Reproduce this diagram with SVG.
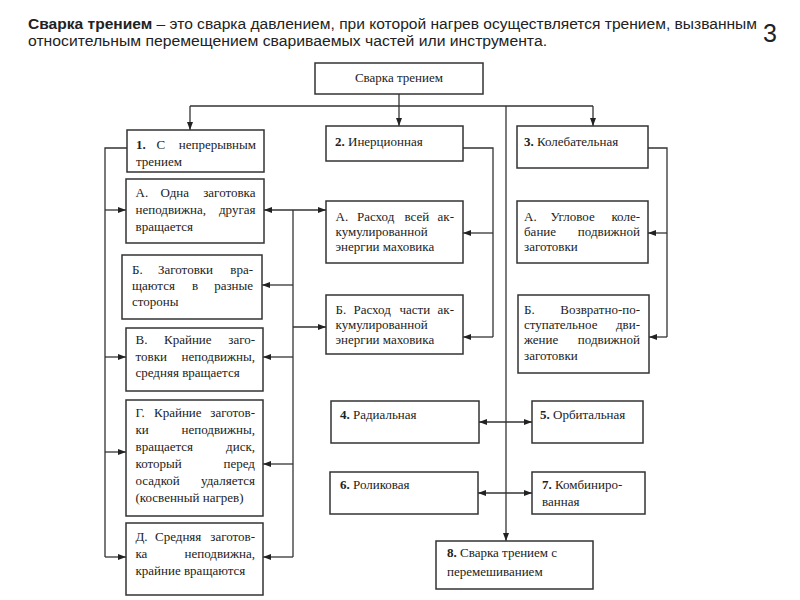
<svg xmlns="http://www.w3.org/2000/svg" width="800" height="600" viewBox="0 0 800 600">
<defs>
<marker id="ah" viewBox="0 0 8 6" refX="8" refY="3" markerWidth="8" markerHeight="6" markerUnits="userSpaceOnUse" orient="auto-start-reverse"><path d="M0,0 L8,3 L0,6 z" fill="#222"/></marker>
<style>
.hd{font-family:"Liberation Sans",Arial,sans-serif;font-size:15.5px;fill:#222}
.box{fill:#fff;stroke:#333;stroke-width:1.5}
.t{font-family:"Liberation Serif","Times New Roman",serif;font-size:13px;fill:#222}
.e{text-anchor:end}
.c{text-anchor:middle}
.ln{fill:none;stroke:#333;stroke-width:1.3}
.ar{fill:none;stroke:#333;stroke-width:1.3;marker-end:url(#ah)}
.ar2{fill:none;stroke:#333;stroke-width:1.3;marker-end:url(#ah);marker-start:url(#ah)}
</style>
</defs>
<rect width="800" height="600" fill="#fff"/>
<g id="header">
<text class="hd" x="28" y="29" textLength="729" lengthAdjust="spacingAndGlyphs"><tspan font-weight="bold">Сварка трением</tspan> – это сварка давлением, при которой нагрев осуществляется трением, вызванным</text>
<text class="hd" x="28" y="46" textLength="519" lengthAdjust="spacingAndGlyphs">относительным перемещением свариваемых частей или инструмента.</text>
<text x="763" y="42" style="font-family:'Liberation Sans',Arial,sans-serif;font-size:25px;fill:#222">3</text>
</g>
<g id="connectors">
<path class="ln" d="M190,106 H593"/>
<path class="ar" d="M399,94 V126"/>
<path class="ar" d="M190,106 V130"/>
<path class="ar" d="M593,106 V126"/>
<path class="ar" d="M506,106 V541"/>
<path class="ln" d="M127,148 H105 V557"/>
<path class="ar" d="M105,210 H126"/>
<path class="ar" d="M105,357 H126"/>
<path class="ar" d="M105,452 H126"/>
<path class="ar" d="M105,557 H126"/>
<path class="ar2" d="M264,210 H326"/>
<path class="ln" d="M293,210 V557"/>
<path class="ar" d="M293,285 H262"/>
<path class="ar" d="M293,357 H263"/>
<path class="ar" d="M293,464 H263"/>
<path class="ar" d="M293,557 H263"/>
<path class="ar" d="M293,327 H326"/>
<path class="ln" d="M463,148 H493 V337"/>
<path class="ar" d="M493,233 H463"/>
<path class="ar" d="M493,337 H463"/>
<path class="ln" d="M648,148 H667 V337"/>
<path class="ar" d="M667,233 H648"/>
<path class="ar" d="M667,337 H649"/>
<path class="ar2" d="M479,422 H532"/>
<path class="ar2" d="M478,493 H532"/>
</g>
<g id="n0">
<rect class="box" x="315" y="63" width="168" height="31"/>
<text class="t c" x="399" y="82">Сварка трением</text>
</g>
<g id="n1">
<rect class="box" x="127" y="130" width="137" height="42"/>
<text class="t" y="149"><tspan x="136" font-weight="bold">1.</tspan><tspan x="156.5">С</tspan></text>
<text class="t e" x="256" y="149">непрерывным</text>
<text class="t" x="136" y="166">трением</text>
</g>
<g id="n1a">
<rect class="box" x="126" y="179" width="138" height="64"/>
<text class="t" y="197"><tspan x="135.5">А.</tspan><tspan x="160.5">Одна</tspan></text>
<text class="t e" x="255.5" y="197">заготовка</text>
<text class="t" x="135.5" y="214">неподвижна,</text>
<text class="t e" x="255.5" y="214">другая</text>
<text class="t" x="135.5" y="231">вращается</text>
</g>
<g id="n1b">
<rect class="box" x="122" y="255" width="140" height="64"/>
<text class="t" y="274"><tspan x="132">Б.</tspan><tspan x="158">Заготовки</tspan></text>
<text class="t e" x="253" y="274">вра-</text>
<text class="t" y="290"><tspan x="132">щаются</tspan><tspan x="192">в</tspan></text>
<text class="t e" x="253" y="290">разные</text>
<text class="t" x="132" y="306">стороны</text>
</g>
<g id="n1v">
<rect class="box" x="126" y="328" width="137" height="63"/>
<text class="t" y="344"><tspan x="135.5">В.</tspan><tspan x="164">Крайние</tspan></text>
<text class="t e" x="255" y="344">заго-</text>
<text class="t" x="135.5" y="361">товки</text>
<text class="t e" x="255" y="361">неподвижны,</text>
<text class="t" x="135.5" y="377">средняя вращается</text>
</g>
<g id="n1g">
<rect class="box" x="126" y="400" width="137" height="116"/>
<text class="t" y="417"><tspan x="135.5">Г.</tspan><tspan x="154">Крайние</tspan></text>
<text class="t e" x="255" y="417">заготов-</text>
<text class="t" x="135.5" y="434">ки</text>
<text class="t e" x="255" y="434">неподвижны,</text>
<text class="t" x="135.5" y="451">вращается</text>
<text class="t e" x="255" y="451">диск,</text>
<text class="t" x="135.5" y="468">который</text>
<text class="t e" x="255" y="468">перед</text>
<text class="t" x="135.5" y="485">осадкой</text>
<text class="t e" x="255" y="485">удаляется</text>
<text class="t" x="135.5" y="502">(косвенный нагрев)</text>
</g>
<g id="n1d">
<rect class="box" x="126" y="523" width="137" height="72"/>
<text class="t" y="541"><tspan x="135.5">Д.</tspan><tspan x="155">Средняя</tspan></text>
<text class="t e" x="255" y="541">заготов-</text>
<text class="t" x="135.5" y="558">ка</text>
<text class="t e" x="255" y="558">неподвижна,</text>
<text class="t" x="135.5" y="575">крайние вращаются</text>
</g>
<g id="n2">
<rect class="box" x="326" y="126" width="137" height="35"/>
<text class="t" x="335" y="146"><tspan font-weight="bold">2.</tspan> Инерционная</text>
</g>
<g id="n2a">
<rect class="box" x="326" y="201" width="137" height="62"/>
<text class="t" y="221"><tspan x="335.5">А.</tspan><tspan x="357">Расход</tspan><tspan x="404.5">всей</tspan></text>
<text class="t e" x="454" y="221">ак-</text>
<text class="t" x="335.5" y="236">кумулированной</text>
<text class="t" x="335.5" y="251">энергии маховика</text>
</g>
<g id="n2b">
<rect class="box" x="326" y="295" width="137" height="59"/>
<text class="t" y="314"><tspan x="335.5">Б.</tspan><tspan x="353.5">Расход</tspan><tspan x="399.5">части</tspan></text>
<text class="t e" x="454" y="314">ак-</text>
<text class="t" x="335.5" y="329">кумулированной</text>
<text class="t" x="335.5" y="344">энергии маховика</text>
</g>
<g id="n3">
<rect class="box" x="517" y="126" width="131" height="42"/>
<text class="t" x="524" y="146"><tspan font-weight="bold">3.</tspan> Колебательная</text>
</g>
<g id="n3a">
<rect class="box" x="517" y="201" width="131" height="62"/>
<text class="t" y="221"><tspan x="524">А.</tspan><tspan x="550.5">Угловое</tspan></text>
<text class="t e" x="640" y="221">коле-</text>
<text class="t" x="524" y="236">бание</text>
<text class="t e" x="640" y="236">подвижной</text>
<text class="t" x="524" y="251">заготовки</text>
</g>
<g id="n3b">
<rect class="box" x="518" y="295" width="131" height="78"/>
<text class="t" x="524" y="314">Б.</text>
<text class="t e" x="640" y="314">Возвратно-по-</text>
<text class="t" x="524" y="329">ступательное</text>
<text class="t e" x="640" y="329">дви-</text>
<text class="t" x="524" y="344">жение</text>
<text class="t e" x="640" y="344">подвижной</text>
<text class="t" x="524" y="360">заготовки</text>
</g>
<g id="n4">
<rect class="box" x="331" y="401" width="148" height="42"/>
<text class="t" x="340" y="419"><tspan font-weight="bold">4.</tspan> Радиальная</text>
</g>
<g id="n5">
<rect class="box" x="532" y="401" width="111" height="42"/>
<text class="t" x="540" y="419"><tspan font-weight="bold">5.</tspan> Орбитальная</text>
</g>
<g id="n6">
<rect class="box" x="330" y="472" width="148" height="42"/>
<text class="t" x="340" y="489"><tspan font-weight="bold">6.</tspan> Роликовая</text>
</g>
<g id="n7">
<rect class="box" x="532" y="472" width="113" height="42"/>
<text class="t" x="542" y="489"><tspan font-weight="bold">7.</tspan> Комбиниро-</text>
<text class="t" x="542" y="506">ванная</text>
</g>
<g id="n8">
<rect class="box" x="436" y="541" width="157" height="48"/>
<text class="t" x="447" y="557"><tspan font-weight="bold">8.</tspan> Сварка трением  с</text>
<text class="t" x="447" y="576">перемешиванием</text>
</g>
</svg>
